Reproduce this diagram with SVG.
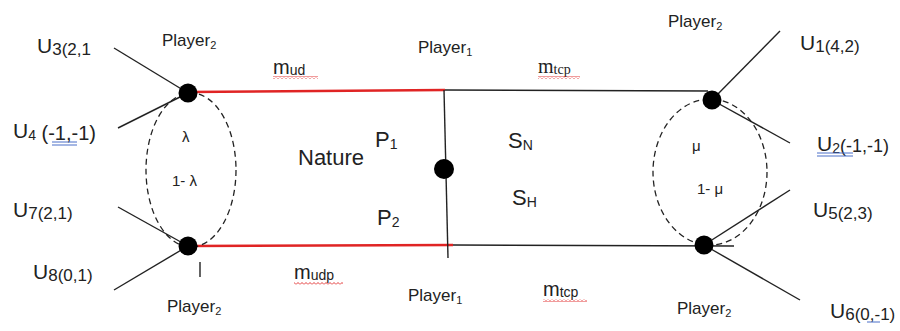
<svg xmlns="http://www.w3.org/2000/svg" width="900" height="331" viewBox="0 0 900 331">
<style>
text{font-family:"Liberation Sans",Arial,sans-serif;fill:#222}
.u{font-size:21px}
.us{font-size:17px}
.pl{font-size:17px}
.sub{font-size:11px}
.m{font-size:20px}
.ms{font-size:14px}
.big{font-size:22px}
.gr{font-size:15px}
.ln{stroke:#222;stroke-width:1.4;fill:none}
.red{stroke:#e02424;stroke-width:2.6;fill:none}
.dash{stroke:#222;stroke-width:1.3;fill:none;stroke-dasharray:6 4}
.node{fill:#000}
.blue{stroke:#4a6fc8;stroke-width:1}
</style>
<defs>
<pattern id="wavy" width="4" height="3" patternUnits="userSpaceOnUse">
<path d="M0,2.5 L2,0.5 L4,2.5" stroke="#e02424" stroke-width="0.9" fill="none"/>
</pattern>
</defs>
<g id="connectors">
<line class="ln" x1="114" y1="48" x2="188" y2="93"/>
<line class="ln" x1="118" y1="128" x2="188" y2="93"/>
<line class="ln" x1="118" y1="207" x2="188" y2="246"/>
<line class="ln" x1="114" y1="290" x2="188" y2="246"/>
<line class="ln" x1="200" y1="262" x2="200" y2="277"/>
<line class="red" x1="188" y1="92" x2="445" y2="90"/>
<line class="red" x1="188" y1="246" x2="453" y2="245"/>
<line class="ln" x1="445" y1="90" x2="708" y2="91"/>
<line class="ln" x1="453" y1="245" x2="734" y2="246" stroke="#555"/>
<line class="ln" x1="444" y1="90" x2="448" y2="258" stroke="#444"/>
<line class="ln" x1="712" y1="100" x2="780" y2="31"/>
<line class="ln" x1="712" y1="100" x2="790" y2="143"/>
<line class="ln" x1="704" y1="245" x2="790" y2="190"/>
<line class="ln" x1="704" y1="245" x2="800" y2="300"/>
<ellipse class="dash" cx="191" cy="170" rx="45" ry="77"/>
<ellipse class="dash" cx="710" cy="172" rx="57" ry="73"/>
</g>
<g id="node-p2-top-left">
<circle class="node" cx="188" cy="93" r="9.5"/>
<text class="pl" x="162" y="46">Player<tspan class="sub" dy="3">2</tspan></text>
</g>
<g id="node-p2-bottom-left">
<circle class="node" cx="188" cy="246" r="9.5"/>
<text class="pl" x="167" y="312">Player<tspan class="sub" dy="3">2</tspan></text>
</g>
<g id="node-nature">
<circle class="node" cx="444" cy="169" r="10"/>
<text class="big" x="298" y="165">Nature</text>
<text class="big" x="375" y="147">P<tspan class="ms" dy="2">1</tspan></text>
<text class="big" x="377" y="225">P<tspan class="ms" dy="2">2</tspan></text>
<text class="big" x="508" y="148">S<tspan class="ms" dy="2">N</tspan></text>
<text class="big" x="512" y="205">S<tspan class="ms" dy="2">H</tspan></text>
</g>
<g id="node-p1-top">
<text class="pl" x="418" y="53">Player<tspan class="sub" dy="3">1</tspan></text>
</g>
<g id="node-p1-bottom">
<text class="pl" x="408" y="301">Player<tspan class="sub" dy="3">1</tspan></text>
</g>
<g id="node-p2-top-right">
<circle class="node" cx="712" cy="100" r="9.5"/>
<text class="pl" x="668" y="27">Player<tspan class="sub" dy="3">2</tspan></text>
</g>
<g id="node-p2-bottom-right">
<circle class="node" cx="704" cy="245" r="9.5"/>
<text class="pl" x="677" y="314">Player<tspan class="sub" dy="3">2</tspan></text>
</g>
<g id="labels">
<text class="m" x="273" y="74">m<tspan class="ms" dy="1">ud</tspan></text>
<rect x="273" y="76" width="45" height="3" fill="url(#wavy)"/>
<text class="m" x="538" y="73" style="font-family:'Liberation Serif',serif">m<tspan class="ms" dy="1">tcp</tspan></text>
<rect x="538" y="76" width="42" height="3" fill="url(#wavy)"/>
<text class="m" x="294" y="279">m<tspan class="ms" dy="1">udp</tspan></text>
<rect x="294" y="282" width="49" height="3" fill="url(#wavy)"/>
<text class="m" x="543" y="296">m<tspan class="ms" dy="1">tcp</tspan></text>
<rect x="543" y="299" width="44" height="3" fill="url(#wavy)"/>
<text class="gr" x="182" y="142">λ</text>
<text class="gr" x="172" y="186">1- λ</text>
<text class="gr" x="692" y="151">μ</text>
<text class="gr" x="697" y="194">1- μ</text>
</g>
<g id="payoffs">
<text class="u" x="37" y="53">U<tspan class="us" dy="2">3(2,1</tspan></text>
<text class="u" x="13" y="138">U<tspan class="ms" dy="2">4</tspan><tspan font-size="20" dy="0"> (-1,-1)</tspan></text>
<line class="blue" x1="52" y1="142" x2="77" y2="142"/>
<line class="blue" x1="52" y1="145" x2="77" y2="145"/>
<text class="u" x="13" y="217">U<tspan class="us" dy="2">7(2,1)</tspan></text>
<text class="u" x="33" y="279">U<tspan class="us" dy="2">8(0,1)</tspan></text>
<text class="u" x="800" y="50">U<tspan class="us" dy="2">1(4,2)</tspan></text>
<text class="u" x="817" y="151">U<tspan class="ms" dy="2">2</tspan><tspan font-size="18" dy="-1">(-1,-1)</tspan></text>
<line class="blue" x1="817" y1="153" x2="853" y2="153"/>
<line class="blue" x1="817" y1="156" x2="853" y2="156"/>
<text class="u" x="813" y="217">U<tspan class="us" dy="2">5(2,3)</tspan></text>
<text class="u" x="830" y="318">U<tspan class="us" dy="2">6(0,-1)</tspan></text>
<line class="blue" x1="867" y1="322" x2="880" y2="322"/>
</g>
</svg>
